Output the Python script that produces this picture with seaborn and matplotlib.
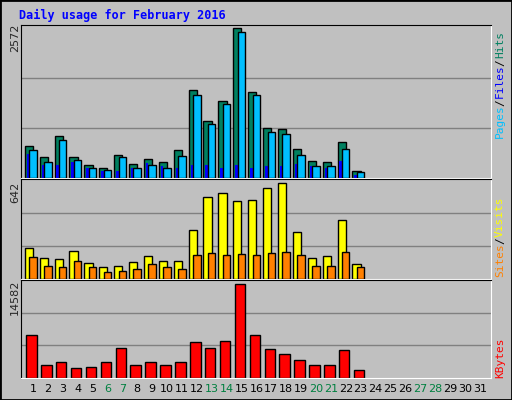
import numpy as np
import matplotlib
matplotlib.use("Agg")
import matplotlib.pyplot as plt
import seaborn as sns

days = list(range(1, 32))
hits = [547,355,722,355,215,180,390,233,320,268,477,1507,983,1315,2572,1472,861,844,495,285,268,617,128]
files = [477,268,652,303,163,145,355,180,215,180,372,1420,931,1263,2502,1420,791,756,390,198,198,495,111]
pages = [407,215,215,268,163,128,128,180,250,198,180,215,215,163,215,180,198,198,233,198,180,285,58]
visits = [202,136,129,182,102,76,82,109,149,116,116,315,529,555,502,509,589,615,302,136,149,382,96]
sites = [142,82,76,116,76,42,49,62,96,76,62,156,169,156,162,156,169,175,156,82,82,175,76]
kbytes = [6600,1970,2450,1490,1650,2450,4680,1970,2450,1970,2450,5640,4680,5800,14582,6600,4520,3720,2770,1970,1970,4360,1170]
weekend = [6,7,13,14,20,21,27,28]

sns.set_style("white")
plt.rcParams['font.family'] = ['DejaVu Sans Mono']

W, H = 512, 400
fig = plt.figure(figsize=(W/100, H/100), dpi=100, facecolor="#C0C0C0")
# outer border
fig.add_artist(plt.Rectangle((0, 0), 1, 1, transform=fig.transFigure, fill=False, lw=2, ec="black"))

def axes(top, bottom):
    ax = fig.add_axes([21/W, 1-bottom/H, 470/W, (bottom-top)/H])
    ax.set_facecolor("#C0C0C0")
    ax.set_xlim(0.2, 31.75)
    ax.set_xticks([])
    ax.set_yticks([])
    for s in ax.spines.values():
        s.set_color("black")
    ax.spines["bottom"].set_color("white")
    ax.spines["right"].set_color("white")
    return ax

n = len(hits)
x = np.arange(1, n+1)
ek = dict(edgecolor="black", linewidth=1)

ax1 = axes(25, 178)
mx = 2572
ax1.set_ylim(0, mx*1.02)
for g in (1/3, 2/3):
    ax1.axhline(mx*g, color="#808080", lw=1, zorder=0)
ax1.bar(x-0.55, hits, width=0.55, align="edge", color="#008060", **ek, zorder=2)
ax1.bar(x-0.42, pages, width=0.17, align="edge", color="#0000FF", edgecolor="none", zorder=3)
ax1.bar(x-0.25, files, width=0.5, align="edge", color="#00BFFF", **ek, zorder=4)

ax2 = axes(179, 279)
mx2 = 642
ax2.set_ylim(0, mx2*1.003)
for g in (1/3, 2/3):
    ax2.axhline(mx2*g, color="#808080", lw=1, zorder=0)
ax2.bar(x-0.55, visits, width=0.55, align="edge", color="#FFFF00", **ek, zorder=2)
ax2.bar(x-0.25, sites, width=0.5, align="edge", color="#FF8000", **ek, zorder=3)

ax3 = axes(280, 378)
mx3 = 14582
ax3.set_ylim(0, mx3*1.04)
for g in (1/3, 2/3):
    ax3.axhline(mx3*1.04*g, color="#808080", lw=1, zorder=0)
ax3.bar(x-0.45, kbytes, width=0.7, align="edge", color="#FF0000", **ek, zorder=2)

for d in days:
    xp = (21 + (d-0.2)/(31.75-0.2)*470)/W
    fig.text(xp, 1-389/H, str(d), ha="center", va="center", fontsize=8,
             color="#008040" if d in weekend else "black", family="DejaVu Sans")

fig.text(19/W, 1-15/H, "Daily usage for February 2016", color="#0000FF",
         fontsize=8.5, fontweight="bold", va="center", ha="left")
for txt, y in (("2572", 38), ("642", 192), ("14582", 297)):
    fig.text(15/W, 1-y/H, txt, rotation=90, ha="center", va="center", fontsize=8, family="DejaVu Sans")

def rlabel(parts, ybottom):
    y = ybottom
    for t, c in parts:
        tt = fig.text(500/W, 1-y/H, t, rotation=90, ha="center", va="bottom", color=c, fontsize=8)
        y -= len(t)*6.3 + 1
rlabel([("Pages", "#00BFFF"), ("/", "black"), ("Files", "#0000FF"), ("/", "black"), ("Hits", "#008060")], 138)
rlabel([("Sites", "#FF8000"), ("/", "black"), ("Visits", "#FFFF00")], 277)
rlabel([("KBytes", "#FF0000")], 378)

fig.savefig("out.png", dpi=100, facecolor=fig.get_facecolor())
